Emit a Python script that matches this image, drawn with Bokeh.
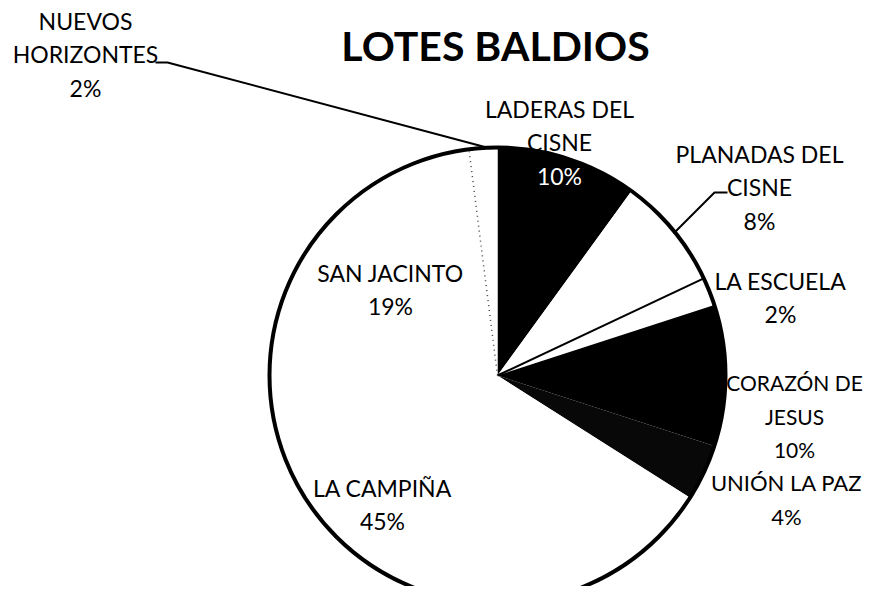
import math
from bokeh.plotting import figure
from bokeh.models import Range1d
from bokeh.core.properties import value
from bokeh.embed import file_html
from bokeh.resources import INLINE

# ---- data ----
title = "LOTES BALDIOS"
names = ["LADERAS DEL\nCISNE", "PLANADAS DEL\nCISNE", "LA ESCUELA", "CORAZÓN DE\nJESUS",
         "UNIÓN LA PAZ", "LA CAMPIÑA", "SAN JACINTO", "NUEVOS\nHORIZONTES"]
percents = [10, 8, 2, 10, 4, 45, 19, 2]
fills = ["#000000", "#ffffff", "#ffffff", "#000000", "#080808", "#ffffff", "#ffffff", "#ffffff"]
pct_colors = ["#ffffff", "#000000", "#000000", "#000000", "#000000", "#000000", "#000000", "#000000"]

# ---- layout (pixel coords: x right, y down) ----
W, H = 867, 586
CX, CY, R = 497, 375, 228
label_anchor = [(559, 108), (759, 153), (780, 280), (794, 382),
                (786, 482), (382, 487), (390, 272), (85, 20)]
label_size = ["23px", "23px", "23px", "21px", "22px", "23px", "23px", "23px"]
LINE_STEP = 33.5
FONT = "Lato"


def Y(yp):
    return 602 - yp


p = figure(width=W, height=H, output_backend="svg", toolbar_location=None,
           x_range=Range1d(0, W), y_range=Range1d(602 - H, 602),
           min_border=0)
p.axis.visible = False
p.grid.visible = False
p.outline_line_color = None
p.background_fill_color = "white"
p.border_fill_color = "white"

total = float(sum(percents))
starts, ends = [], []
cum = 0.0
for v in percents:
    a0 = math.pi / 2 - 2 * math.pi * cum / total
    cum += v
    a1 = math.pi / 2 - 2 * math.pi * cum / total
    starts.append(a1)
    ends.append(a0)

p.wedge(x=[CX] * len(percents), y=[Y(CY)] * len(percents), radius=R,
        start_angle=starts, end_angle=ends, direction="anticlock",
        fill_color=fills, line_color=None)

# boundary between PLANADAS and LA ESCUELA (solid), SAN JACINTO / NUEVOS (dotted)
b1 = ends[2]
p.segment(x0=[CX], y0=[Y(CY)], x1=[CX + R * math.cos(b1)], y1=[Y(CY) + R * math.sin(b1)],
          line_color="black", line_width=2)
b2 = ends[7]
p.segment(x0=[CX], y0=[Y(CY)], x1=[CX + R * 0.99 * math.cos(b2)], y1=[Y(CY) + R * 0.99 * math.sin(b2)],
          line_color="#444444", line_width=1.5, line_dash="1 4")

# outer outline
p.circle(x=[CX], y=[Y(CY)], radius=R, fill_color=None, line_color="black", line_width=4)

# leader lines
p.line(x=[155, 167, 490], y=[Y(62), Y(62), Y(148)], line_color="black", line_width=2)
p.line(x=[673, 714, 727], y=[Y(233), Y(192), Y(192)], line_color="black", line_width=2)

# labels
xs, ys, txt, cols, sizes = [], [], [], [], []
for n, v, (ax, ay), c, s in zip(names, percents, label_anchor, pct_colors, label_size):
    lines = n.split("\n") + [f"{v}%"]
    for i, ln in enumerate(lines):
        xs.append(ax)
        ys.append(Y(ay + i * LINE_STEP))
        txt.append(ln)
        cols.append(c if i == len(lines) - 1 else "#000000")
        sizes.append(s)
p.text(x=xs, y=ys, text=txt, text_color=cols, text_align="center", text_baseline="middle",
       text_font=value(FONT), text_font_size=sizes)

# title
p.text(x=[495], y=[Y(45)], text=[title], text_align="center", text_baseline="middle",
       text_font=value(FONT), text_font_size="41px", text_font_style="bold", text_color="black")

open("out.html", "w").write(file_html(p, INLINE))
